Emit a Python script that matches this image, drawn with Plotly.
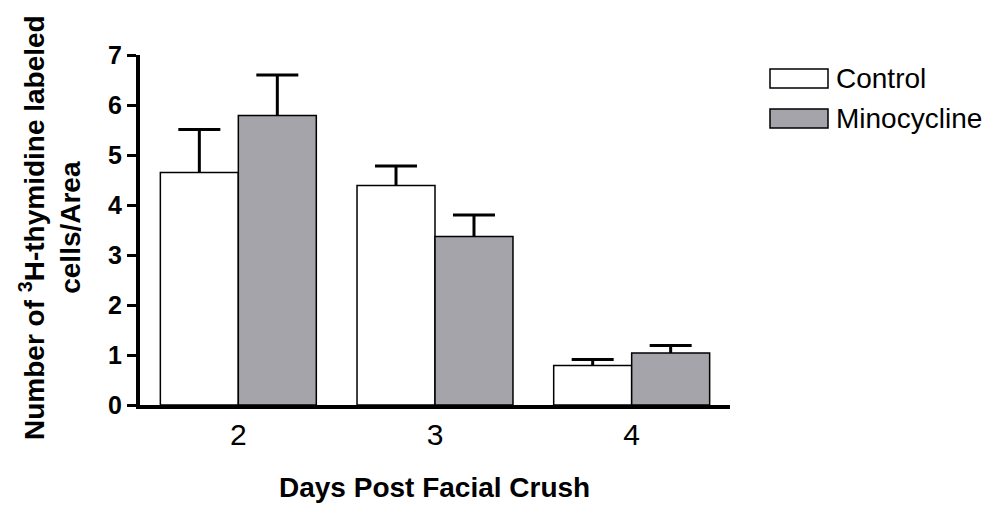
import plotly.graph_objects as go

days = ["2", "3", "4"]
control_mean = [4.65, 4.39, 0.79]
control_sem = [0.86, 0.39, 0.12]
mino_mean = [5.79, 3.37, 1.04]
mino_sem = [0.81, 0.43, 0.15]

series = [
    ("Control", control_mean, control_sem, "#ffffff", "c"),
    ("Minocycline", mino_mean, mino_sem, "#a4a4aa", "m"),
]

FONT = "Liberation Sans, Arial, Helvetica, sans-serif"

fig = go.Figure()
for name, mean, sem, color, grp in series:
    fig.add_trace(go.Bar(
        name=name, x=days, y=mean, offsetgroup=grp,
        marker=dict(color=color, line=dict(color="black", width=1.5)),
        error_y=dict(type="data", symmetric=False, array=sem,
                     arrayminus=[0] * len(sem), width=0, thickness=3,
                     color="black"),
        showlegend=False,
    ))
    # caps of the error bars
    fig.add_trace(go.Bar(
        name=name + " cap", x=days, y=[m + s for m, s in zip(mean, sem)],
        offsetgroup=grp,
        marker=dict(color="rgba(0,0,0,0)", line=dict(width=0)),
        error_y=dict(type="data", array=[0] * len(sem), width=21,
                     thickness=3, color="black"),
        showlegend=False, hoverinfo="skip",
    ))

L, R, T, B = 140, 278, 55, 101
W, H = 1008, 506
pw, ph = W - L - R, H - T - B


def px(xp):
    return (xp - L) / pw


def py(yp):
    return (H - B - yp) / ph


shapes = []
annotations = []
for i, (name, mean, sem, color, grp) in enumerate(series):
    y0 = 69 + i * 40
    shapes.append(dict(type="rect", xref="paper", yref="paper",
                       x0=px(770), x1=px(828), y0=py(y0), y1=py(y0 + 19),
                       fillcolor=color, line=dict(color="black", width=1.5)))
    annotations.append(dict(text=name, xref="paper", yref="paper",
                            x=px(834), y=py(y0 + 9.5), xanchor="left",
                            yanchor="middle", showarrow=False,
                            font=dict(family=FONT, size=28, color="black")))

annotations.append(dict(
    text="Number of <sup>3</sup>H-thymidine labeled<br>cells/Area",
    xref="paper", yref="paper", x=px(50), y=py(228), xanchor="center",
    yanchor="middle", textangle=-90, showarrow=False,
    font=dict(family=FONT, size=28, color="black", weight="bold")))

annotations.append(dict(
    text="Days Post Facial Crush",
    xref="paper", yref="paper", x=px(434), y=py(487), xanchor="center",
    yanchor="middle", showarrow=False,
    font=dict(family=FONT, size=28, color="black", weight="bold")))

fig.update_layout(
    width=W, height=H,
    margin=dict(l=L, r=R, t=T, b=B, autoexpand=False),
    paper_bgcolor="white", plot_bgcolor="white",
    barmode="group", bargap=0.207, bargroupgap=0,
    showlegend=False,
    shapes=shapes, annotations=annotations,
    font=dict(family=FONT, color="black"),
)
fig.update_xaxes(
    type="category", showline=True, linecolor="black", linewidth=4,
    ticks="", showgrid=False, zeroline=False, automargin=False,
    tickfont=dict(family=FONT, size=30, color="black"),
)
fig.update_yaxes(
    range=[0, 7], dtick=1, showline=True, linecolor="black", linewidth=4,
    ticks="outside", ticklen=9, tickwidth=3, tickcolor="black",
    showgrid=False, zeroline=False, automargin=False,
    tickfont=dict(family=FONT, size=25, color="black", weight="bold"),
)

fig.write_html("out.html")
